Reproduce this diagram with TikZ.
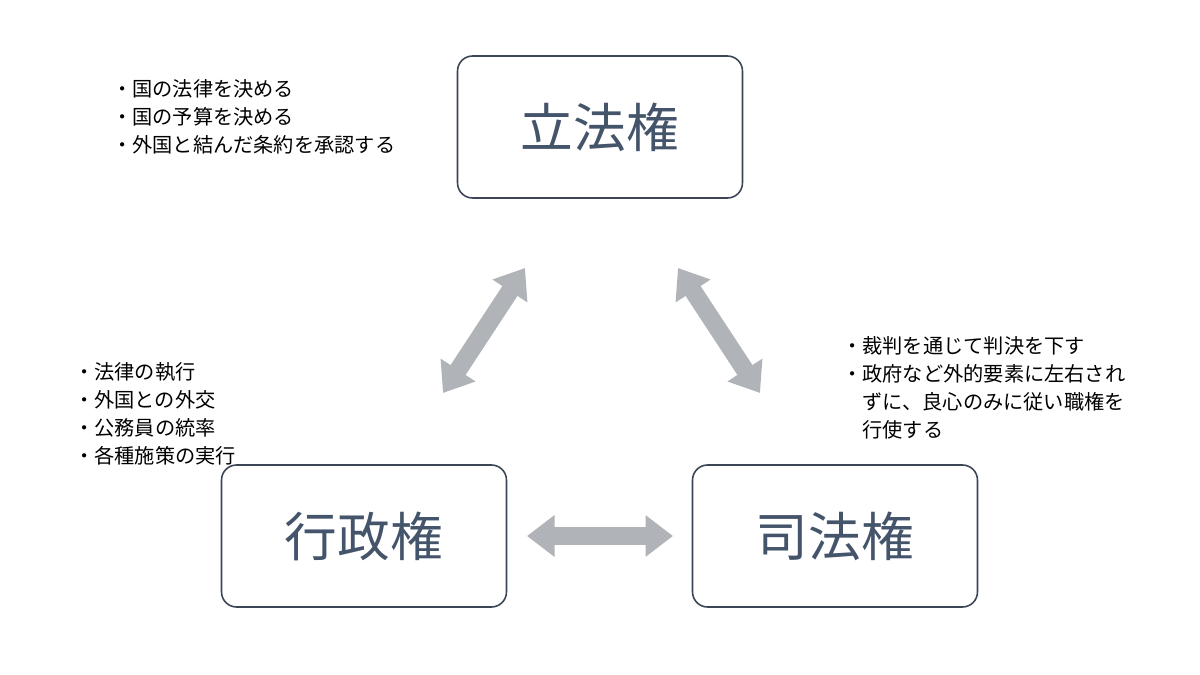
\documentclass[tikz,border=0pt]{standalone}
\usepackage{fontspec}
\setmainfont{Noto Sans CJK JP}
\usetikzlibrary{arrows.meta}
\definecolor{boxline}{HTML}{3B4556}
\definecolor{boxtext}{HTML}{44546A}
\definecolor{arrowgray}{HTML}{B0B3B8}
\begin{document}
\begin{tikzpicture}[x=0.02cm, y=-0.02cm,
    power/.style={draw=boxline, line width=0.9pt, rounded corners=0.3cm,
      minimum width=5.7cm, minimum height=2.84cm, text=boxtext,
      font=\fontsize{30}{36}\selectfont},
    duty/.style={anchor=north west, align=left, inner sep=0pt,
      font=\fontsize{11.5}{15.9}\selectfont},
    link/.style={draw=arrowgray, line width=0.36cm,
      {Triangle[length=0.55cm,width=0.8cm]}-{Triangle[length=0.55cm,width=0.8cm]}}]
  \useasboundingbox (0,0) rectangle (1200,675);
  %% the three powers
  \node[power] (rippo) at (600,127) {立法権};
  \node[power] (gyosei) at (364,536) {行政権};
  \node[power] (shiho) at (835,536) {司法権};
  %% duties
  \node[duty] (rippoduty) at (112,79) {・国の法律を決める\\・国の予算を決める\\・外国と結んだ条約を承認する};
  \node[duty] (gyoseiduty) at (74,362) {・法律の執行\\・外国との外交\\・公務員の統率\\・各種施策の実行};
  \node[duty] (shihoduty) at (842,336) {・裁判を通じて判決を下す\\・政府など外的要素に左右され\\\phantom{・}ずに、良心のみに従い職権を\\\phantom{・}行使する};
  %% checks and balances
  \coordinate (rgA) at (443,393);
  \coordinate (rgB) at (525,268);
  \coordinate (rsA) at (678,268);
  \coordinate (rsB) at (760,393);
  \coordinate (gsA) at (527,536);
  \coordinate (gsB) at (673,536);
  \draw[link] (rgA) -- (rgB);
  \draw[link] (rsA) -- (rsB);
  \draw[link] (gsA) -- (gsB);
\end{tikzpicture}
\end{document}
